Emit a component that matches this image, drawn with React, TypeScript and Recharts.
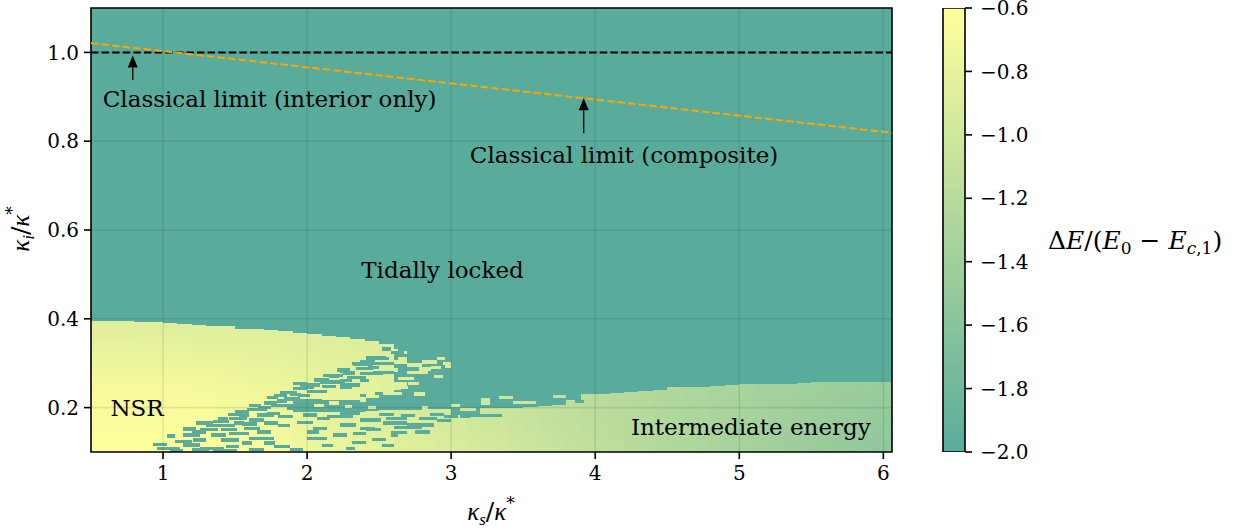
import React from "react";
import {
  ComposedChart,
  XAxis,
  YAxis,
  Line,
  Bar,
  ReferenceArea,
  ReferenceLine,
  ReferenceDot,
} from "recharts";

const FONT = "'DejaVu Serif', serif";
const MATH = "'Liberation Serif', serif";

// colour scale: summer colormap, alpha 0.65 over white
const V_MIN = -2.0;
const V_MAX = -0.6;
const ALPHA = 0.65;

// NSR region, one column per 0.1 in kappa_s (edges), limits in kappa_i
const nsrEdges = [0.5, 0.6, 0.7, 0.8, 0.9, 1.0, 1.1, 1.2, 1.3, 1.4, 1.5, 1.6, 1.7, 1.8, 1.9, 2.0, 2.1, 2.2, 2.3, 2.4, 2.5, 2.6];
const nsrTop = [0.396, 0.396, 0.396, 0.393, 0.392, 0.39, 0.388, 0.387, 0.384, 0.383, 0.378, 0.377, 0.374, 0.372, 0.369, 0.366, 0.362, 0.358, 0.354, 0.35, 0.343];
const nsrBottom = [0.1, 0.1, 0.1, 0.1, 0.1, 0.1, 0.1, 0.1, 0.1, 0.1, 0.1, 0.1, 0.1, 0.1, 0.22, 0.219, 0.218, 0.217, 0.217, 0.222, 0.228];
const nsrHigh = [-0.88, -0.88, -0.88, -0.88, -0.88, -0.88, -0.88, -0.88, -0.88, -0.88, -0.88, -0.88, -0.88, -0.88, -0.88, -0.88, -0.88, -0.88, -0.89, -0.89, -0.9];
const nsrMid = [-0.68, -0.68, -0.68, -0.68, -0.68, -0.68, -0.68, -0.69, -0.69, -0.7, -0.71, -0.72, -0.73, -0.75, -0.82, -0.82, -0.83, -0.84, -0.85, -0.86, -0.87];
const nsrLow = [-0.6, -0.6, -0.6, -0.6, -0.6, -0.6, -0.61, -0.61, -0.62, -0.63, -0.64, -0.65, -0.67, -0.69, -0.76, -0.77, -0.78, -0.79, -0.8, -0.81, -0.83];

// intermediate energy region, from kappa_i = 0.1 up to intTop
const intEdges = [1.9, 2.0, 2.1, 2.2, 2.3, 2.4, 2.5, 2.6, 2.7, 2.8, 2.9, 3.0, 3.1, 3.2, 3.3, 3.4, 3.5, 3.6, 3.7, 3.8, 3.9, 4.0, 4.1, 4.2, 4.3, 4.4, 4.5, 4.6, 4.7, 4.8, 4.9, 5.0, 5.1, 5.2, 5.3, 5.4, 5.5, 5.6, 5.7, 5.8, 5.9, 6.0, 6.06];
const intTop = [0.19, 0.19, 0.19, 0.19, 0.19, 0.192, 0.194, 0.195, 0.195, 0.196, 0.197, 0.19, 0.19, 0.198, 0.199, 0.2, 0.201, 0.203, 0.206, 0.218, 0.23, 0.231, 0.234, 0.236, 0.238, 0.24, 0.246, 0.247, 0.247, 0.248, 0.25, 0.253, 0.253, 0.253, 0.254, 0.256, 0.258, 0.258, 0.258, 0.258, 0.258, 0.258];
const intHigh = [-0.79, -0.8, -0.82, -0.84, -0.86, -0.88, -0.9, -0.92, -0.94, -0.96, -0.98, -1.0, -1.02, -1.04, -1.06, -1.08, -1.1, -1.12, -1.14, -1.16, -1.18, -1.2, -1.21, -1.23, -1.24, -1.26, -1.27, -1.29, -1.3, -1.32, -1.33, -1.34, -1.36, -1.37, -1.38, -1.4, -1.41, -1.42, -1.43, -1.44, -1.45, -1.46];
const intLow = [-0.72, -0.73, -0.75, -0.77, -0.79, -0.81, -0.83, -0.85, -0.86, -0.88, -0.9, -0.91, -0.93, -0.95, -0.97, -1.0, -1.02, -1.05, -1.07, -1.1, -1.12, -1.15, -1.17, -1.2, -1.22, -1.24, -1.26, -1.28, -1.3, -1.32, -1.34, -1.36, -1.38, -1.4, -1.42, -1.44, -1.46, -1.48, -1.5, -1.51, -1.53, -1.55];

// tidally locked cells inside the NSR / intermediate regions: [ks from, ks to, ki]
const tealStreaks = [
  [2.52, 2.58, 0.332], [2.58, 2.67, 0.324], [2.41, 2.55, 0.312], [2.32, 2.46, 0.297],
  [2.51, 2.6, 0.3], [2.21, 2.3, 0.285], [2.34, 2.46, 0.288], [2.11, 2.25, 0.272],
  [2.28, 2.41, 0.268], [2.46, 2.6, 0.279], [1.95, 2.09, 0.251], [2.09, 2.23, 0.258],
  [2.23, 2.34, 0.251], [1.9, 2.0, 0.243], [1.81, 1.93, 0.234], [2.0, 2.14, 0.237],
  [1.77, 1.86, 0.227], [1.84, 1.95, 0.219], [1.7, 1.79, 0.21], [1.79, 1.86, 0.215],
  [1.84, 1.9, 0.205], [1.86, 1.9, 0.198], [1.58, 1.72, 0.195], [1.53, 1.6, 0.183],
  [1.72, 1.81, 0.187], [1.46, 1.58, 0.176], [1.6, 1.7, 0.172], [1.23, 1.35, 0.165],
  [1.3, 1.42, 0.159], [1.14, 1.23, 0.152], [1.4, 1.51, 0.15], [1.56, 1.67, 0.153],
  [1.03, 1.08, 0.136], [1.14, 1.26, 0.138], [1.33, 1.44, 0.138], [1.46, 1.6, 0.142],
  [1.21, 1.3, 0.127], [1.4, 1.53, 0.127], [1.6, 1.77, 0.131], [0.93, 1.03, 0.117],
  [1.14, 1.26, 0.116], [1.26, 1.42, 0.108], [1.44, 1.53, 0.112], [1.77, 1.88, 0.112],
  [1.35, 1.51, 0.104], [0.96, 1.12, 0.108], [1.49, 1.56, 0.165], [1.65, 1.77, 0.183],
  [1.08, 1.2, 0.124], [1.2, 1.3, 0.145], [1.26, 1.38, 0.15], [1.35, 1.46, 0.168],
  [1.42, 1.5, 0.16], [1.5, 1.6, 0.19], [1.45, 1.55, 0.185], [1.38, 1.45, 0.176],
  [1.6, 1.68, 0.205], [1.66, 1.75, 0.2], [1.72, 1.8, 0.222], [1.75, 1.84, 0.205],
  [1.55, 1.65, 0.163], [1.7, 1.8, 0.165], [1.8, 1.9, 0.18], [1.8, 1.88, 0.16],
  [1.65, 1.75, 0.145], [1.55, 1.62, 0.12], [1.7, 1.78, 0.12], [1.6, 1.7, 0.106],
  [1.2, 1.32, 0.106], [1.05, 1.14, 0.104], [1.9, 2.0, 0.255], [1.97, 2.05, 0.245],
  [2.05, 2.15, 0.262], [2.15, 2.22, 0.27], [2.1, 2.2, 0.248], [2.25, 2.33, 0.278],
  [2.42, 2.5, 0.29], [2.5, 2.57, 0.31], [2.45, 2.53, 0.3], [2.17, 2.26, 0.258],
  [1.88, 1.96, 0.23], [1.94, 2.02, 0.228],
  [2.14, 2.32, 0.18], [2.37, 2.51, 0.172], [2.55, 2.69, 0.176], [2.69, 2.88, 0.161],
  [2.23, 2.34, 0.161], [2.04, 2.14, 0.153], [2.41, 2.51, 0.15], [2.58, 2.69, 0.144],
  [2.32, 2.41, 0.122], [2.18, 2.28, 0.138], [1.93, 2.04, 0.167], [2.0, 2.14, 0.131],
  [1.88, 1.97, 0.106], [2.23, 2.37, 0.186], [2.23, 2.32, 0.161], [2.37, 2.47, 0.153],
  [2.32, 2.41, 0.142], [2.31, 2.37, 0.121], [2.53, 2.69, 0.165], [2.69, 2.8, 0.156],
  [2.58, 2.63, 0.138], [2.78, 2.9, 0.176], [2.9, 3.0, 0.171], [3.06, 3.13, 0.18],
  [3.0, 3.2, 0.186], [3.1, 3.35, 0.182], [3.86, 3.92, 0.213],
  [1.97, 2.07, 0.183], [2.07, 2.16, 0.175], [2.5, 2.6, 0.185], [2.65, 2.75, 0.182],
  [2.85, 2.95, 0.185], [2.6, 2.7, 0.155], [2.75, 2.85, 0.145], [2.45, 2.55, 0.128],
  [2.1, 2.18, 0.115], [2.27, 2.33, 0.108], [2.52, 2.6, 0.115], [2.0, 2.08, 0.145],
  [2.95, 3.05, 0.18],
  [2.31, 2.37, 0.3], [2.37, 2.47, 0.303], [2.23, 2.26, 0.281], [2.37, 2.53, 0.277],
  [2.23, 2.31, 0.261], [2.37, 2.43, 0.261], [2.31, 2.37, 0.251], [2.23, 2.31, 0.246],
  [2.47, 2.53, 0.232], [2.37, 2.41, 0.228],
];

// NSR / intermediate cells inside the tidally locked region: [ks from, ks to, ki, value]
const yellowStreaks = [
  [2.53, 2.58, 0.333, -0.88], [2.58, 2.63, 0.328, -0.88], [2.63, 2.69, 0.324, -0.89],
  [2.58, 2.69, 0.303, -0.88], [2.69, 2.8, 0.296, -0.9], [2.8, 2.9, 0.303, -0.9],
  [2.9, 2.96, 0.311, -0.92], [2.96, 3.0, 0.292, -0.92], [2.69, 2.84, 0.279, -0.9],
  [2.63, 2.74, 0.266, -0.88], [2.53, 2.69, 0.253, -0.86], [2.53, 2.65, 0.243, -0.86],
  [2.37, 2.41, 0.217, -0.84], [2.26, 2.31, 0.203, -0.84], [2.8, 2.84, 0.2, -0.92],
  [3.0, 3.06, 0.204, -0.96], [2.53, 2.63, 0.285, -0.88], [2.63, 2.69, 0.311, -0.9],
  [3.06, 3.17, 0.195, -0.98], [3.21, 3.27, 0.217, -1.0], [3.21, 3.27, 0.21, -1.0],
  [3.33, 3.43, 0.223, -1.02], [3.43, 3.59, 0.212, -1.04], [3.71, 3.8, 0.225, -1.1],
  [2.6, 2.7, 0.245, -0.88], [2.7, 2.78, 0.255, -0.9], [2.78, 2.86, 0.287, -0.9],
  [2.86, 2.93, 0.29, -0.92], [2.6, 2.66, 0.232, -0.88], [2.74, 2.82, 0.231, -0.9],
  [2.88, 2.94, 0.27, -0.92], [2.94, 3.0, 0.3, -0.92], [2.05, 2.12, 0.205, -0.82],
  [2.15, 2.22, 0.21, -0.83], [2.42, 2.48, 0.2, -0.86],
];
const STREAK = 0.0075;

const interiorLimit = [{ ks: 0.5, ki: 1.0 }, { ks: 6.06, ki: 1.0 }];
const compositeLimit = [{ ks: 0.5, ki: 1.021 }, { ks: 6.06, ki: 0.819 }];

const xTicks = [1, 2, 3, 4, 5, 6];
const yTicks = [0.2, 0.4, 0.6, 0.8, 1.0];
const cbarTicks = [-2.0, -1.8, -1.6, -1.4, -1.2, -1.0, -0.8, -0.6];
const cbarRange = [{ name: "dE", range: [V_MIN, V_MAX] }];

const annotations = [
  { ks: 1.74, ki: 0.895, text: "Classical limit (interior only)" },
  { ks: 4.2, ki: 0.769, text: "Classical limit (composite)" },
  { ks: 2.94, ki: 0.51, text: "Tidally locked" },
  { ks: 0.82, ki: 0.199, text: "NSR" },
  { ks: 5.08, ki: 0.156, text: "Intermediate energy" },
];
const arrows = [
  [{ x: 0.79, y: 0.938 }, { x: 0.79, y: 0.993 }],
  [{ x: 3.92, y: 0.818 }, { x: 3.92, y: 0.897 }],
];

function colorOf(v: number) {
  const t = Math.min(1, Math.max(0, (v - V_MIN) / (V_MAX - V_MIN)));
  const mix = (c: number) => Math.round(255 * (1 - ALPHA) + ALPHA * 255 * c);
  return `rgb(${mix(t)},${mix(0.5 + 0.5 * t)},${mix(0.4)})`;
}

const TEAL = colorOf(V_MIN);
const tickStyle = { fill: "#000", fontSize: 20, fontFamily: FONT };
const tickLine = { stroke: "#000", strokeWidth: 1.6 };

const Arrow = (props: any) => {
  const { x1, y1, x2, y2 } = props;
  const head = 12;
  const half = 5;
  const by = y2 + head;
  return (
    <g>
      <line x1={x1} y1={y1} x2={x2} y2={by} stroke="#000" strokeWidth={1.3} />
      <polygon points={`${x2},${y2} ${x2 - half},${by} ${x2 + half},${by}`} fill="#000" />
    </g>
  );
};

const cell = (key: string, x1: number, x2: number, y1: number, y2: number, fill: string) => (
  <ReferenceArea
    key={key}
    x1={x1}
    x2={x2}
    y1={y1}
    y2={y2}
    fill={fill}
    fillOpacity={1}
    stroke="none"
    shapeRendering="crispEdges"
    ifOverflow="visible"
  />
);

export default function App() {
  return (
    <div style={{ position: "absolute", left: 0, top: 0, width: 1237, height: 531, fontFamily: FONT, background: "#fff" }}>
      <div style={{ position: "absolute", left: 0, top: 0 }}>
        <ComposedChart width={900} height={531} margin={{ top: 8, right: 8, bottom: 0, left: 0 }}>
          <defs>
            {nsrTop.map((_, i) => (
              <linearGradient key={`gn${i}`} id={`nsr${i}`} x1="0" y1="0" x2="0" y2="1">
                <stop offset="0" stopColor={colorOf(nsrHigh[i])} />
                <stop offset="0.5" stopColor={colorOf(nsrMid[i])} />
                <stop offset="1" stopColor={colorOf(nsrLow[i])} />
              </linearGradient>
            ))}
            {intTop.map((_, i) => (
              <linearGradient key={`gi${i}`} id={`int${i}`} x1="0" y1="0" x2="0" y2="1">
                <stop offset="0" stopColor={colorOf(intHigh[i])} />
                <stop offset="1" stopColor={colorOf(intLow[i])} />
              </linearGradient>
            ))}
          </defs>
          <XAxis
            type="number"
            dataKey="ks"
            domain={[0.5, 6.06]}
            ticks={xTicks}
            interval={0}
            allowDataOverflow
            height={79}
            tickSize={7}
            tickMargin={7}
            axisLine={false}
            tickLine={tickLine}
            tick={tickStyle}
          />
          <YAxis
            type="number"
            domain={[0.1, 1.1]}
            ticks={yTicks}
            interval={0}
            allowDataOverflow
            width={91}
            tickSize={7}
            tickMargin={5}
            axisLine={false}
            tickLine={tickLine}
            tick={tickStyle}
            tickFormatter={(v: number) => v.toFixed(1)}
          />
          {cell("bg", 0.5, 6.06, 0.1, 1.1, TEAL)}
          {nsrTop.map((top, i) => cell(`n${i}`, nsrEdges[i], nsrEdges[i + 1], nsrBottom[i], top, `url(#nsr${i})`))}
          {intTop.map((top, i) => cell(`i${i}`, intEdges[i], intEdges[i + 1], 0.1, top, `url(#int${i})`))}
          {yellowStreaks.map(([a, b, k, v], i) => cell(`y${i}`, a, b, k - STREAK / 2, k + STREAK / 2, colorOf(v)))}
          {tealStreaks.map(([a, b, k], i) => cell(`t${i}`, a, b, Math.max(0.1, k - STREAK / 2), k + STREAK / 2, TEAL))}
          <ReferenceArea x1={0.5} x2={6.06} y1={0.1} y2={1.1} fill="none" stroke="#000" strokeWidth={1.6} />
          {xTicks.map((t) => (
            <ReferenceLine key={`gx${t}`} x={t} stroke="#000" strokeOpacity={0.09} strokeWidth={1.6} />
          ))}
          {yTicks.map((t) => (
            <ReferenceLine key={`gy${t}`} y={t} stroke="#000" strokeOpacity={0.09} strokeWidth={1.6} />
          ))}
          <Line data={interiorLimit} dataKey="ki" stroke="#000" strokeWidth={2} strokeDasharray="7.4 3.2" dot={false} isAnimationActive={false} />
          <Line data={compositeLimit} dataKey="ki" stroke="#FFA500" strokeWidth={2} strokeDasharray="7.4 3.2" dot={false} isAnimationActive={false} />
          {arrows.map((seg, i) => (
            <ReferenceLine key={`a${i}`} segment={seg} shape={Arrow} />
          ))}
          {annotations.map((a) => (
            <ReferenceDot
              key={a.text}
              x={a.ks}
              y={a.ki}
              r={0}
              fill="none"
              stroke="none"
              label={{ value: a.text, position: "center", fill: "#000", fontSize: 23, fontFamily: FONT }}
            />
          ))}
        </ComposedChart>
      </div>
      <div style={{ position: "absolute", left: 900, top: 0 }}>
        <ComposedChart
          width={337}
          height={531}
          data={cbarRange}
          barCategoryGap={0}
          barGap={0}
          margin={{ top: 8, right: 0, bottom: 79, left: 43 }}
        >
          <defs>
            <linearGradient id="cbar" x1="0" y1="0" x2="0" y2="1">
              <stop offset="0" stopColor={colorOf(V_MAX)} />
              <stop offset="1" stopColor={colorOf(V_MIN)} />
            </linearGradient>
          </defs>
          <XAxis type="category" dataKey="name" hide />
          <YAxis
            orientation="right"
            type="number"
            domain={[V_MIN, V_MAX]}
            ticks={cbarTicks}
            interval={0}
            allowDataOverflow
            width={272}
            tickSize={7}
            tickMargin={8}
            axisLine={false}
            tickLine={tickLine}
            tick={tickStyle}
            tickFormatter={(v: number) => "\u2212" + Math.abs(v).toFixed(1)}
          />
          <Bar dataKey="range" fill="url(#cbar)" stroke="#000" strokeWidth={1.6} isAnimationActive={false} />
        </ComposedChart>
      </div>
      <svg width={1237} height={531} style={{ position: "absolute", left: 0, top: 0, pointerEvents: "none" }} fontFamily={FONT}>
        <text x={491} y={520} textAnchor="middle" fontSize={25} fill="#000">
          <tspan fontStyle="italic" fontFamily={MATH}>κ</tspan>
          <tspan fontStyle="italic" fontFamily={MATH} fontSize={17} dy={5}>s</tspan>
          <tspan dy={-5}>/</tspan>
          <tspan fontStyle="italic" fontFamily={MATH}>κ</tspan>
          <tspan fontSize={17} dy={-11}>*</tspan>
        </text>
        <text x={0} y={0} transform="translate(29,229) rotate(-90)" textAnchor="middle" fontSize={25} fill="#000">
          <tspan fontStyle="italic" fontFamily={MATH}>κ</tspan>
          <tspan fontStyle="italic" fontFamily={MATH} fontSize={17} dy={5}>i</tspan>
          <tspan dy={-5}>/</tspan>
          <tspan fontStyle="italic" fontFamily={MATH}>κ</tspan>
          <tspan fontSize={17} dy={-11}>*</tspan>
        </text>
        <text x={1048} y={249} fontSize={25} fill="#000">
          <tspan>Δ</tspan>
          <tspan fontStyle="italic">E</tspan>
          <tspan>/(</tspan>
          <tspan fontStyle="italic">E</tspan>
          <tspan fontSize={17} dy={5}>0</tspan>
          <tspan dy={-5}> − </tspan>
          <tspan fontStyle="italic">E</tspan>
          <tspan fontSize={17} dy={5} fontStyle="italic">c</tspan>
          <tspan fontSize={17}>,1</tspan>
          <tspan dy={-5}>)</tspan>
        </text>
      </svg>
    </div>
  );
}
